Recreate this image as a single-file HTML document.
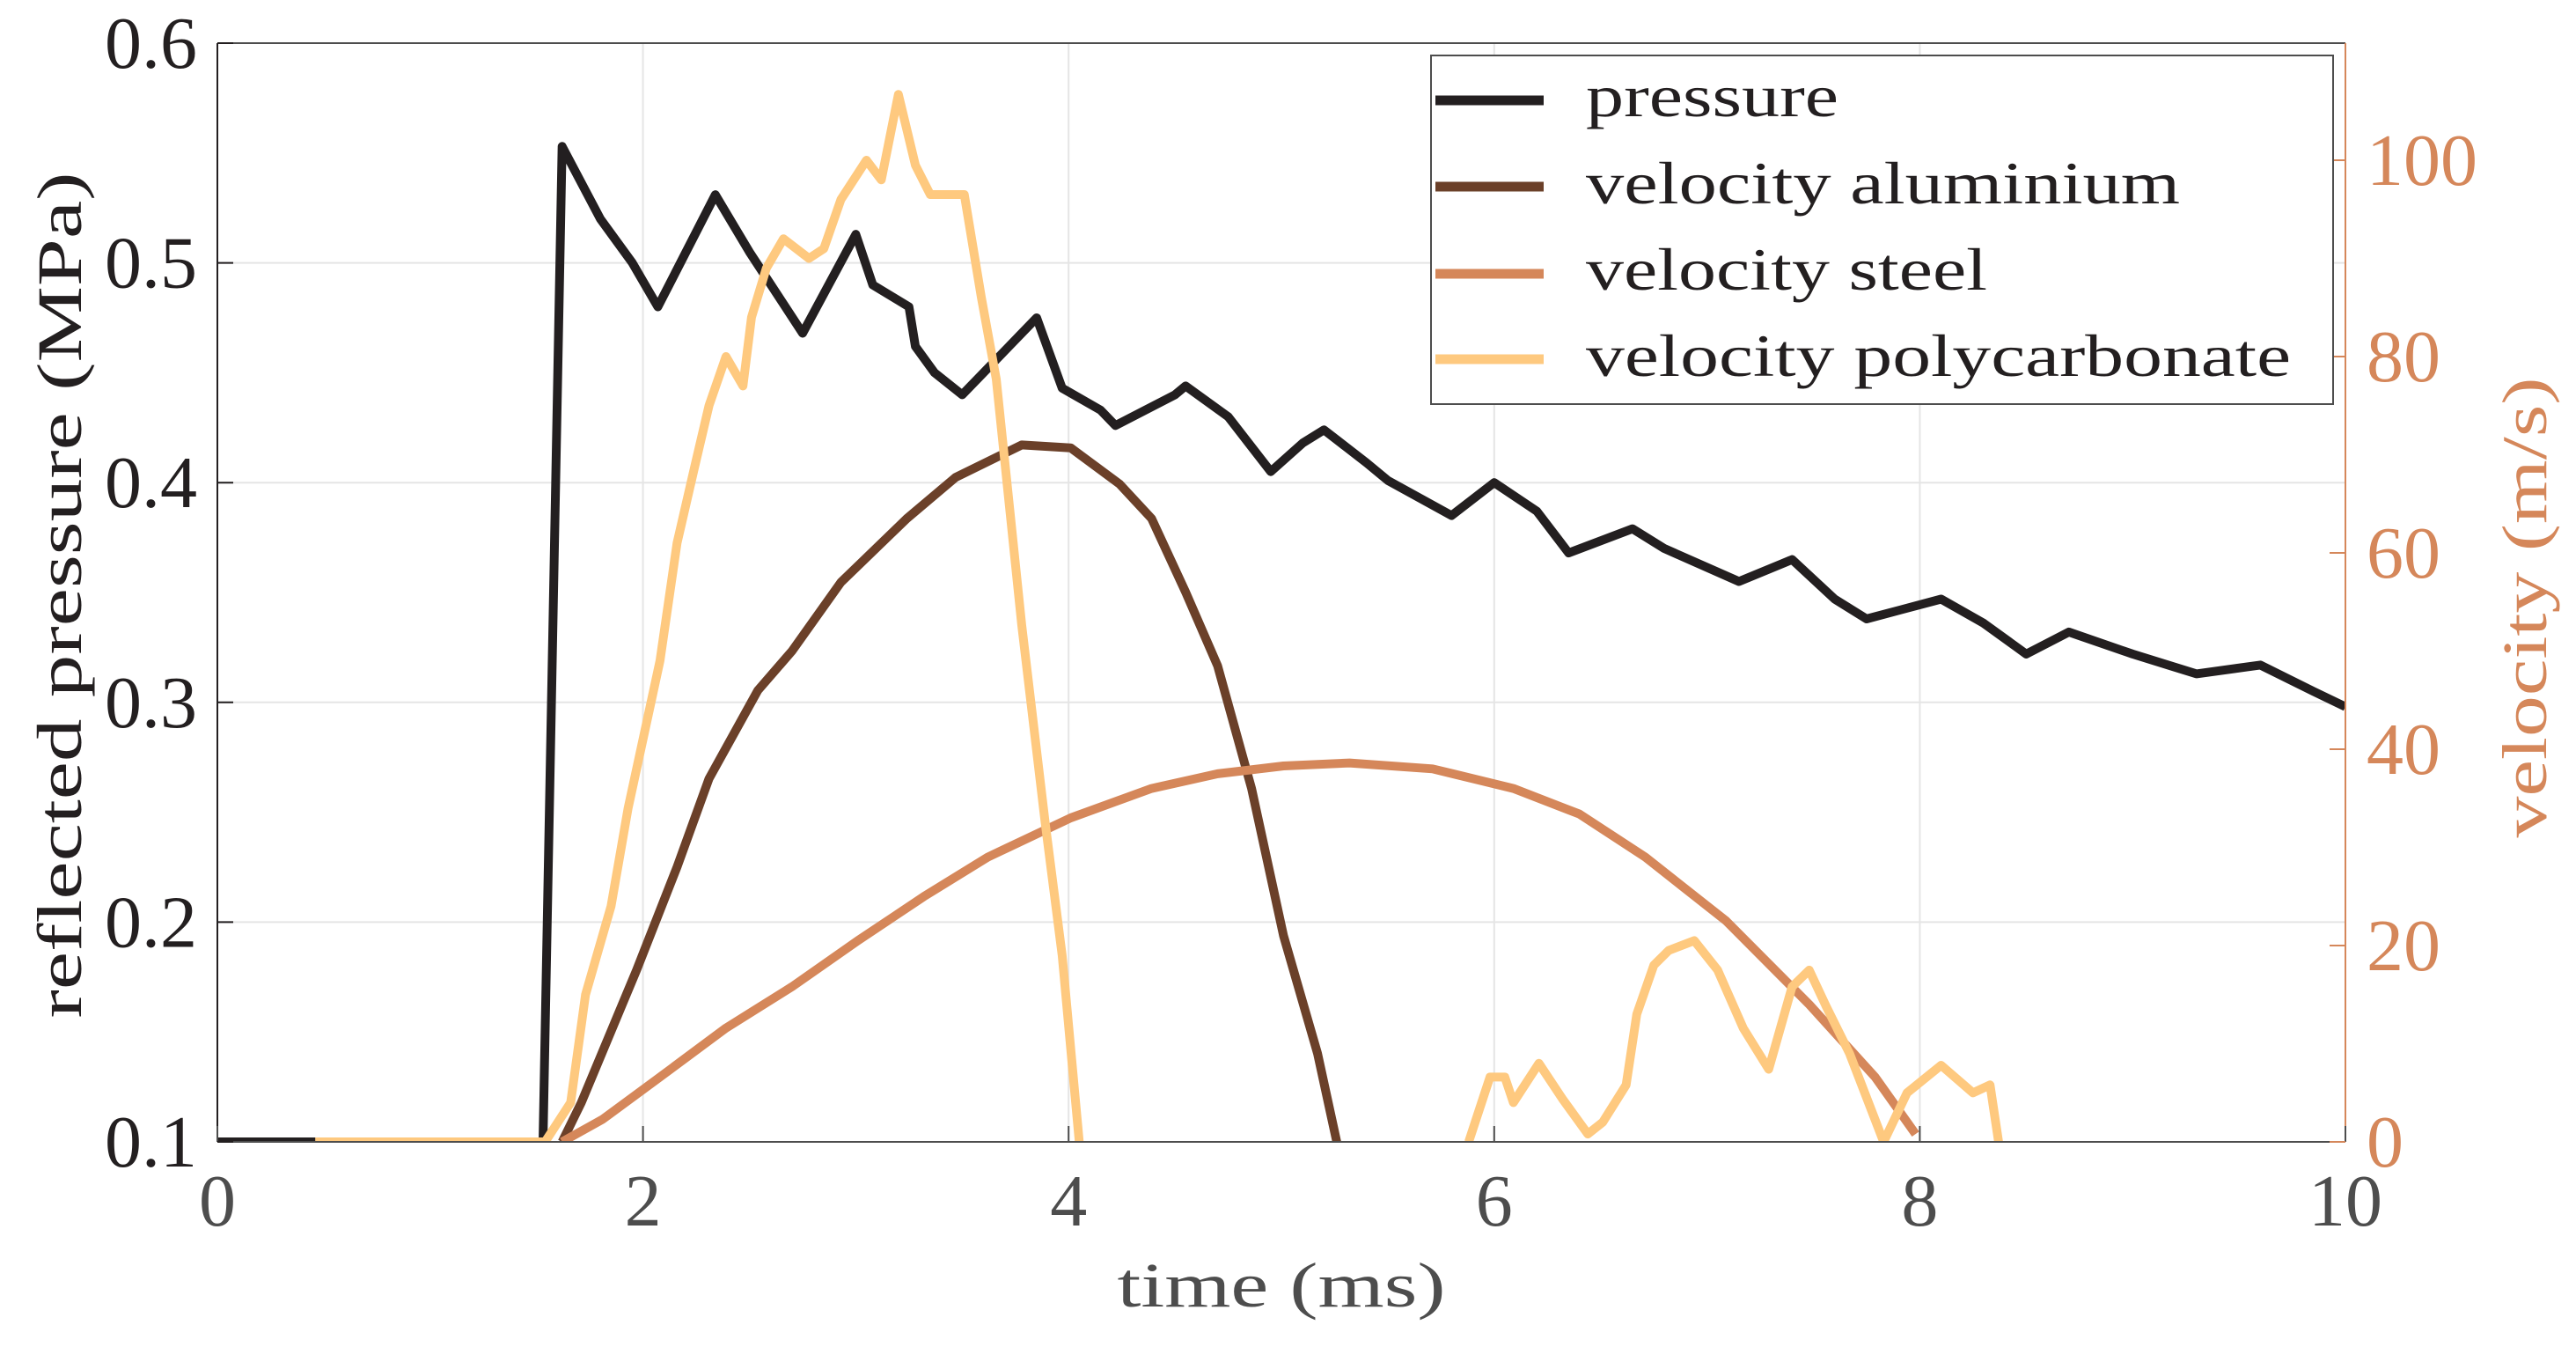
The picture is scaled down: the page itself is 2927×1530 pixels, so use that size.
<!DOCTYPE html>
<html><head><meta charset="utf-8"><style>
html,body{margin:0;padding:0;background:#fff}
svg{display:block}
text{font-family:"Liberation Serif",serif}
</style></head><body>
<svg id="chart" width="2927" height="1530" viewBox="0 0 2927 1530" xmlns="http://www.w3.org/2000/svg">
<rect width="2927" height="1530" fill="#fff"/>
<defs><clipPath id="clip"><rect x="247" y="49" width="2418" height="1248"/></clipPath></defs>
<g id="grid"></g>
<g id="series" clip-path="url(#clip)"></g>
<g id="axes"></g>
</svg>
<script>
const timeTicks=[0,2,4,6,8,10];
const pressTicks=[0.1,0.2,0.3,0.4,0.5,0.6];
const velTicks=[0,20,40,60,80,100];
const pressureT=[0,1.53,1.62,1.8,1.95,2.07,2.34,2.5,2.75,3.0,3.08,3.25,3.28,3.37,3.5,3.85,3.97,4.15,4.22,4.5,4.55,4.75,4.95,5.1,5.2,5.4,5.5,5.8,6.0,6.2,6.35,6.65,6.8,7.15,7.4,7.6,7.75,8.1,8.3,8.5,8.7,9.0,9.3,9.6,9.85,10];
const pressureV=[0.1,0.1,0.553,0.52,0.5,0.48,0.531,0.505,0.468,0.513,0.49,0.48,0.462,0.45,0.44,0.475,0.443,0.433,0.426,0.44,0.444,0.43,0.405,0.418,0.424,0.409,0.401,0.385,0.4,0.387,0.368,0.379,0.37,0.355,0.365,0.347,0.338,0.347,0.336,0.322,0.332,0.322,0.313,0.317,0.305,0.298];
const aluT=[1.62,1.71,1.97,2.16,2.31,2.54,2.70,2.93,3.24,3.47,3.78,4.01,4.24,4.39,4.55,4.70,4.86,5.01,5.17,5.26];
const aluV=[0,4,17.5,28,37,46,50,57,63.5,67.7,71,70.7,67,63.5,56,48.5,36,21,9,0];
const steelT=[1.62,1.81,2.08,2.39,2.70,3.01,3.32,3.62,4.01,4.39,4.70,5.01,5.32,5.71,6.09,6.40,6.71,7.09,7.48,7.79,7.98];
const steelV=[0,2.3,6.6,11.6,15.8,20.5,25,29,33,36,37.5,38.3,38.6,38,36,33.4,29,22.5,14,6.6,0.8];
const polyT=[0.46,1.54,1.66,1.73,1.85,1.93,2.00,2.08,2.16,2.24,2.31,2.39,2.47,2.51,2.58,2.66,2.78,2.85,2.93,3.05,3.12,3.20,3.28,3.35,3.51,3.59,3.66,3.78,3.89,3.97,4.05,
 5.88,5.98,6.05,6.09,6.21,6.32,6.44,6.51,6.62,6.67,6.75,6.82,6.94,7.05,7.17,7.29,7.40,7.48,7.56,7.67,7.83,7.94,8.10,8.25,8.33,8.37];
const polyV=[0,0,4,15,24,34,41,49,61,68.5,75,80,77,84,89,92,90,91,96,100,98,106.7,99.5,96.5,96.5,86,77.7,52.6,32.5,19,0,
 0,6.6,6.6,4,8,4.4,0.8,2,5.8,13,18,19.5,20.5,17.5,11.6,7.4,15.8,17.5,13.8,9,0,5,7.8,5,5.8,0];
const polyBreakAfter=30;

const X0=247,X1=2665,Y0=49,Y1=1297;
const xs=t=>X0+(t/10)*(X1-X0);
const yp=p=>Y1-(p-0.1)/0.5*(Y1-Y0);
const VPX=(1297-182)/100;
const yv=v=>Y1-v*VPX;
const NS="http://www.w3.org/2000/svg";
function mk(tag,attrs,parent,txt){const e=document.createElementNS(NS,tag);for(const k in attrs)e.setAttribute(k,attrs[k]);if(txt!==undefined)e.textContent=txt;parent.appendChild(e);return e;}
const grid=document.getElementById('grid'),series=document.getElementById('series'),axes=document.getElementById('axes');
timeTicks.forEach(t=>{const l=mk('line',{x1:xs(t),x2:xs(t),y1:Y0,y2:Y1,stroke:'#e5e5e5','stroke-width':2},grid);

});
pressTicks.forEach(p=>{const l=mk('line',{x1:X0,x2:X1,y1:yp(p),y2:yp(p),stroke:'#e5e5e5','stroke-width':2},grid);

});
function path(T,V,f,color,name,brk){let d='';T.forEach((t,i)=>{d+=(i===0||(brk!==undefined&&i===brk+1)?'M':'L')+xs(t).toFixed(1)+','+f(V[i]).toFixed(1)+' ';});
const p=mk('path',{d:d,fill:'none',stroke:color,'stroke-width':10,'stroke-linejoin':'round','stroke-linecap':'butt'},series);

}
path(pressureT,pressureV,yp,'#231f20','pressure-line');
path(aluT,aluV,yv,'#6b4029','velocity-aluminium-line');
path(steelT,steelV,yv,'#d5875a','velocity-steel-line');
path(polyT,polyV,yv,'#fec97f','velocity-polycarbonate-line',polyBreakAfter);
mk('line',{x1:X0,x2:X1,y1:Y0,y2:Y0,stroke:'#4d4d4d','stroke-width':2},axes);
mk('line',{x1:X0,x2:X1,y1:Y1,y2:Y1,stroke:'#4d4d4d','stroke-width':2},axes);
mk('line',{x1:X0,x2:X0,y1:Y0,y2:Y1,stroke:'#231f20','stroke-width':2},axes);
mk('line',{x1:X1,x2:X1,y1:Y0,y2:Y1,stroke:'#d5875a','stroke-width':2},axes);
timeTicks.forEach(t=>{mk('line',{x1:xs(t),x2:xs(t),y1:Y1,y2:Y1-18,stroke:'#4d4d4d','stroke-width':2},axes);
const tx=mk('text',{x:xs(t),y:1392,'text-anchor':'middle','font-size':84,fill:'#4d4d4d'},axes,String(t));

});
pressTicks.forEach(p=>{mk('line',{x1:X0,x2:X0+18,y1:yp(p),y2:yp(p),stroke:'#231f20','stroke-width':2},axes);
const tx=mk('text',{x:224,y:yp(p)+28,'text-anchor':'end','font-size':84,fill:'#231f20'},axes,p.toFixed(1));

});
velTicks.forEach(v=>{mk('line',{x1:X1,x2:X1-18,y1:yv(v),y2:yv(v),stroke:'#d5875a','stroke-width':2},axes);
const tx=mk('text',{x:2689,y:yv(v)+28,'text-anchor':'start','font-size':84,fill:'#d5875a'},axes,String(v));

});
</script>
<svg style="position:absolute;left:0;top:0" width="2927" height="1530" xmlns="http://www.w3.org/2000/svg">
<text x="1456" y="1484" text-anchor="middle" font-size="72" fill="#4d4d4d" textLength="373" lengthAdjust="spacingAndGlyphs">time (ms)</text>
<text transform="translate(92,676) rotate(-90)" text-anchor="middle" font-size="72" fill="#231f20" textLength="961" lengthAdjust="spacingAndGlyphs">reflected pressure (MPa)</text>
<text transform="translate(2893,690) rotate(-90)" text-anchor="middle" font-size="72" fill="#d5875a" textLength="523" lengthAdjust="spacingAndGlyphs">velocity (m/s)</text>
<g>
<rect x="1626" y="63" width="1025" height="396" fill="#fff" stroke="#4d4d4d" stroke-width="2"/>
<line x1="1631" x2="1754" y1="114" y2="114" stroke="#231f20" stroke-width="11"/>
<line x1="1631" x2="1754" y1="212" y2="212" stroke="#6b4029" stroke-width="11"/>
<line x1="1631" x2="1754" y1="311" y2="311" stroke="#d5875a" stroke-width="11"/>
<line x1="1631" x2="1754" y1="408" y2="408" stroke="#fec97f" stroke-width="11"/>
<text x="1802" y="132" font-size="68" fill="#231f20" textLength="287" lengthAdjust="spacingAndGlyphs">pressure</text>
<text x="1802" y="231" font-size="68" fill="#231f20" textLength="675" lengthAdjust="spacingAndGlyphs">velocity aluminium</text>
<text x="1802" y="329" font-size="68" fill="#231f20" textLength="456" lengthAdjust="spacingAndGlyphs">velocity steel</text>
<text x="1802" y="427" font-size="68" fill="#231f20" textLength="801" lengthAdjust="spacingAndGlyphs">velocity polycarbonate</text>
</g>
</svg>
</body></html>
